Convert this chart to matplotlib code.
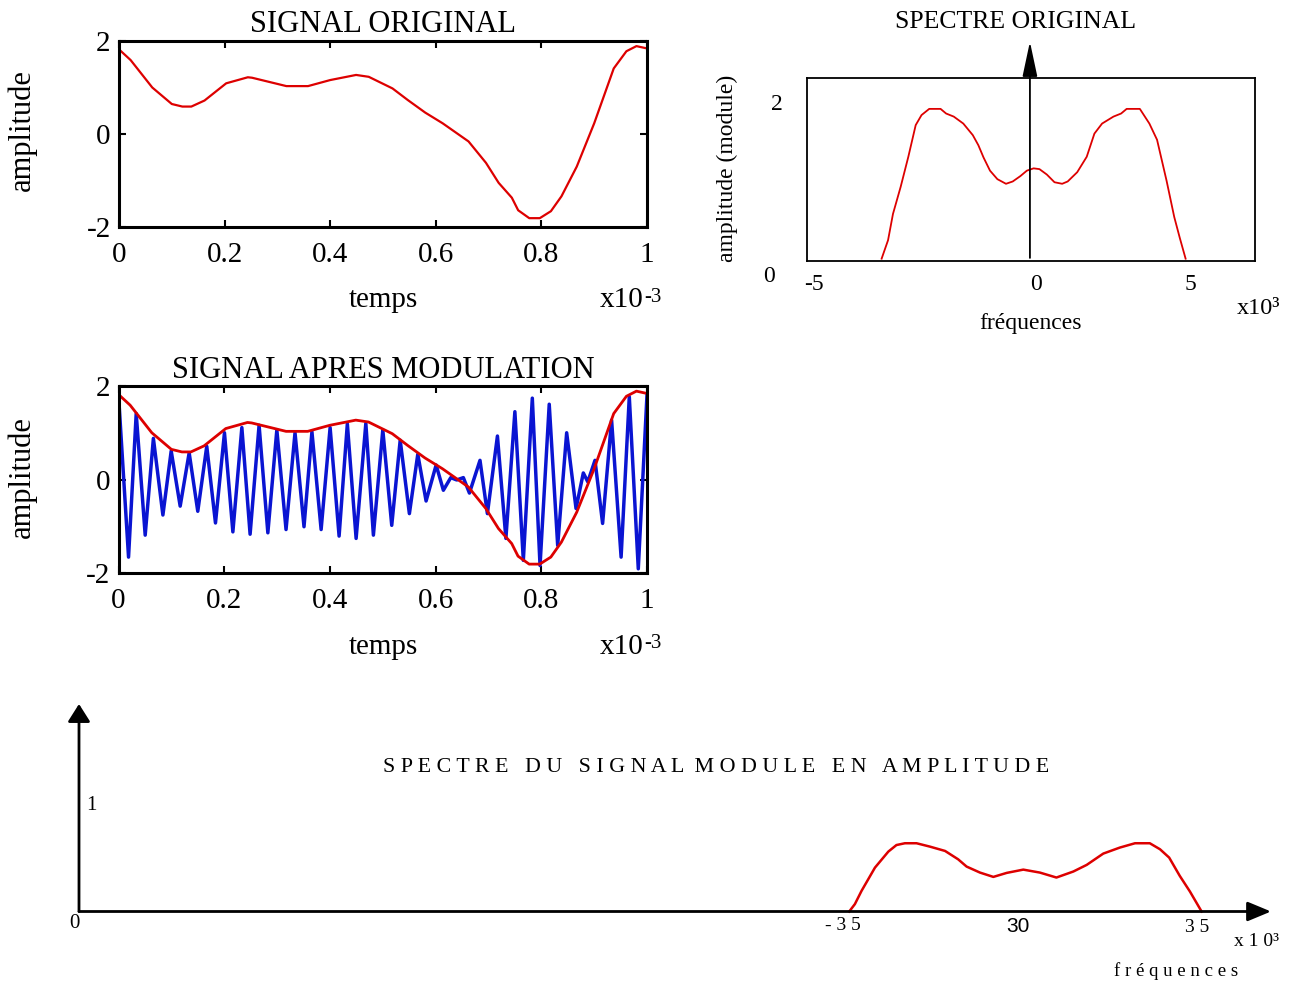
import matplotlib.pyplot as plt

plt.rcParams['font.family'] = ['Liberation Serif', 'DejaVu Serif']
plt.rcParams['axes.unicode_minus'] = False

# signal original (temps en ms)
t_sig = [0, 0.022, 0.063, 0.1, 0.12, 0.137, 0.162, 0.203, 0.244, 0.252, 0.317,
         0.358, 0.4, 0.449, 0.473, 0.518, 0.547, 0.58, 0.613, 0.662, 0.695,
         0.719, 0.744, 0.756, 0.777, 0.797, 0.818, 0.838, 0.867, 0.9, 0.937,
         0.961, 0.98, 1.0]
a_sig = [1.82, 1.59, 1.0, 0.645, 0.59, 0.59, 0.72, 1.09, 1.22, 1.21, 1.03,
         1.03, 1.16, 1.27, 1.23, 0.98, 0.73, 0.46, 0.23, -0.16, -0.62,
         -1.05, -1.37, -1.64, -1.81, -1.81, -1.66, -1.34, -0.70, 0.23, 1.41,
         1.78, 1.89, 1.84]

t_mod = [0, 0.019, 0.0335, 0.0505, 0.066, 0.084, 0.0997, 0.1167, 0.1337, 0.150,
         0.167, 0.1835, 0.2005, 0.2164, 0.2334, 0.249, 0.266, 0.2826, 0.2996,
         0.317, 0.334, 0.351, 0.366, 0.3834, 0.4004, 0.4174, 0.433, 0.4496,
         0.468, 0.4823, 0.5001, 0.517, 0.533, 0.5504, 0.5663, 0.582, 0.601,
         0.6147, 0.6287, 0.64, 0.6525, 0.664, 0.684, 0.698, 0.717, 0.733, 0.750,
         0.766, 0.783, 0.7976, 0.815, 0.831, 0.848, 0.8657, 0.8795, 0.888,
         0.9016, 0.916, 0.933, 0.951, 0.9665, 0.9835, 1.0]
a_mod = [1.81, -1.66, 1.41, -1.19, 0.88, -0.76, 0.61, -0.57, 0.57, -0.68,
         0.71, -0.93, 1.0, -1.12, 1.11, -1.17, 1.16, -1.14, 1.06,
         -1.07, 1.0, -1.01, 1.02, -1.07, 1.11, -1.21, 1.19, -1.26,
         1.2, -1.19, 1.06, -0.98, 0.84, -0.73, 0.54, -0.46, 0.31,
         -0.23, 0.04, -0.01, 0.04, -0.29, 0.41, -0.73, 0.93, -1.26, 1.45,
         -1.73, 1.74, -1.84, 1.61, -1.41, 1.0, -0.62, 0.14, -0.05,
         0.41, -0.94, 1.27, -1.66, 1.77, -1.91, 1.81]

# spectre original (kHz)
f_spec = [-4.9, -4.69, -4.53, -4.28, -4.03, -3.79, -3.6, -3.35, -2.98, -2.8,
          -2.55, -2.24, -1.93, -1.75, -1.58, -1.37, -1.13, -0.85, -0.63, -0.38,
          -0.17, 0.05, 0.24, 0.48, 0.73, 0.98, 1.16, 1.47, 1.78, 2.03, 2.28,
          2.65, 2.9, 3.08, 3.51, 3.82, 4.07, 4.38, 4.63, 4.81, 5.0]
s_spec = [0.03, 0.27, 0.61, 0.96, 1.35, 1.76, 1.89, 1.97, 1.97, 1.91,
          1.87, 1.78, 1.63, 1.5, 1.34, 1.17, 1.06, 1.0, 1.03, 1.1,
          1.17, 1.2, 1.19, 1.12, 1.02, 1.0, 1.03, 1.15, 1.35, 1.65, 1.78,
          1.87, 1.91, 1.97, 1.97, 1.78, 1.57, 1.04, 0.57, 0.3, 0.03]

# spectre du signal module (kHz)
f_am = [25.0, 25.16, 25.35, 25.73, 26.11, 26.34, 26.58, 26.91, 27.29, 27.72,
        28.09, 28.33, 28.71, 29.09, 29.47, 29.94, 30.41, 30.88, 31.36, 31.74,
        32.21, 32.68, 33.11, 33.53, 33.82, 34.08, 34.38, 34.67, 35.0]
s_am = [0.0, 0.07, 0.196, 0.416, 0.568, 0.63, 0.647, 0.647, 0.615, 0.574,
        0.495, 0.426, 0.369, 0.328, 0.366, 0.397, 0.369, 0.322, 0.379, 0.442,
        0.549, 0.606, 0.647, 0.647, 0.59, 0.511, 0.338, 0.189, 0.0]

time_ticks = [0, 0.2, 0.4, 0.6, 0.8, 1]
time_labels = ['0', '0.2', '0.4', '0.6', '0.8', '1']
amp_ticks = [-2, 0, 2]
amp_labels = ['-2', '0', '2']
spec_labels = ['-5', '0', '5']

RED = '#dd0000'
BLUE = '#0a14d2'
W, H = 1296, 983
fig = plt.figure(figsize=(W / 100, H / 100), dpi=100)


def box(l, t, r, b):
    return [l / W, 1 - b / H, (r - l) / W, (b - t) / H]


def txt(x, y, s, size, **kw):
    kw.setdefault('ha', 'center')
    kw.setdefault('va', 'center')
    fig.text(x / W, 1 - y / H, s, fontsize=size, **kw)


def time_axes(rect, title, ty, ly, xy):
    ax = fig.add_axes(rect)
    ax.set_xlim(0, 1)
    ax.set_ylim(-2, 2)
    ax.set_xticks(time_ticks, time_labels)
    ax.set_yticks(amp_ticks, amp_labels)
    ax.tick_params(direction='in', length=5, width=1.5, top=True, right=True,
                   labelsize=21)
    ax.tick_params(axis='x', pad=11)
    ax.tick_params(axis='y', pad=6)
    for s in ax.spines.values():
        s.set_linewidth(2.2)
    txt(383, ty, title, 22)
    txt(22, ly, 'amplitude', 22, rotation=90)
    txt(383, xy, 'temps', 21)
    txt(622, xy, 'x10', 21)
    txt(653, xy - 3, '-3', 15)
    return ax


# signal original
ax1 = time_axes(box(119, 41, 647, 227), 'SIGNAL ORIGINAL', 24, 130, 300)
ax1.plot(t_sig, a_sig, color=RED, lw=1.6)

# signal apres modulation
ax2 = time_axes(box(118.5, 386, 647, 573), 'SIGNAL APRES MODULATION', 370, 477, 647)
ax2.plot(t_mod, a_mod, color=BLUE, lw=2.5, solid_joinstyle='round')
ax2.plot(t_sig, a_sig, color=RED, lw=2.0)

# spectre original
ax3 = fig.add_axes(box(807, 78, 1255, 261))
ax3.set_xlim(-7.33, 7.26)
ax3.set_ylim(0, 2.37)
ax3.set_xticks([])
ax3.set_yticks([])
for s in ax3.spines.values():
    s.set_linewidth(1.3)
ax3.plot(f_spec, s_spec, color=RED, lw=1.3)
ax3.annotate('', xy=(-0.07, 2.84), xytext=(-0.07, 0.04), annotation_clip=False,
             arrowprops=dict(arrowstyle='-|>,head_length=2.16,head_width=0.46',
                             color='black', lw=1.3, shrinkA=0, shrinkB=0))
txt(1016, 22, 'SPECTRE ORIGINAL', 18.5)
txt(727, 168, 'amplitude (module)', 17, rotation=90)
txt(777, 104, '2', 17)
txt(769, 277, '0', 17)
for x, lab in zip([814, 1036, 1190], spec_labels):
    txt(x, 284, lab, 17)
txt(1259, 309, 'x10³', 17.5)
txt(1030, 323, 'fréquences', 17)

# spectre du signal module
ax4 = fig.add_axes(box(79, 704, 1271, 911.5))
ax4.set_xlim(3.14, 36.97)
ax4.set_ylim(0, 1.967)
ax4.axis('off')
ax4.plot(f_am, s_am, color=RED, lw=1.8, clip_on=False)
ax4.annotate('', xy=(1, 0), xytext=(0, 0), xycoords='axes fraction',
             arrowprops=dict(arrowstyle='-|>,head_length=0.65,head_width=0.27',
                             color='black', lw=2, shrinkA=0, shrinkB=0,
                             mutation_scale=22))
ax4.annotate('', xy=(0, 1), xytext=(0, 0), xycoords='axes fraction',
             arrowprops=dict(arrowstyle='-|>,head_length=0.49,head_width=0.31',
                             color='black', lw=2, shrinkA=0, shrinkB=0,
                             mutation_scale=22))
txt(716, 767, 'S P E C T R E   D U   S I G N A L  M O D U L E   E N   A M P L I T U D E', 15.8)
txt(74, 923, '0', 15)
txt(91, 806, '1', 15)
txt(843, 925, '- 3 5', 14)
txt(1018, 927, '30', 15, family='Liberation Sans')
txt(1197, 927, '3 5', 14)
txt(1257, 942, 'x 1 0³', 14)
txt(1176, 971, 'f r é q u e n c e s', 13.5)

fig.savefig('out.png', dpi=100)
